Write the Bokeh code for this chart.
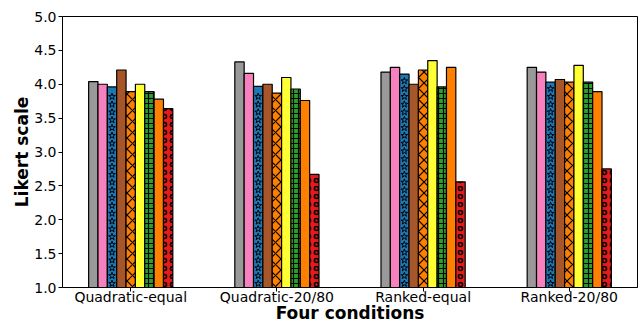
from bokeh.plotting import figure
from bokeh.models import Range1d, FixedTicker
from bokeh.embed import file_html
from bokeh.resources import INLINE

conditions = ["Quadratic-equal", "Quadratic-20/80", "Ranked-equal", "Ranked-20/80"]

s1_gray = [4.04, 4.33, 4.18, 4.25]
s2_pink = [4.00, 4.16, 4.25, 4.18]
s3_blue = [3.96, 3.97, 4.15, 4.03]
s4_brown = [4.21, 4.00, 4.00, 4.07]
s5_orange_x = [3.89, 3.87, 4.21, 4.03]
s6_yellow = [4.00, 4.10, 4.35, 4.28]
s7_green = [3.89, 3.93, 3.96, 4.03]
s8_orange = [3.78, 3.76, 4.25, 3.89]
s9_red = [3.64, 2.67, 2.56, 2.75]

y_ticks = [1.0, 1.5, 2.0, 2.5, 3.0, 3.5, 4.0, 4.5, 5.0]

series = [s1_gray, s2_pink, s3_blue, s4_brown, s5_orange_x, s6_yellow, s7_green, s8_orange, s9_red]
colors = ["#999999", "#f781bf", "#1f77b4", "#a65628", "#ff7f00", "#ffff33", "#2ca02c", "#ff7f00", "#e41a1c"]
hatches = [None, None, "star", None, "diagonal_cross", None, "cross", None, "ring"]
hatch_scales = [12, 12, 8, 12, 11, 12, 5, 12, 8]
hatch_weights = [1, 1, 1, 1, 1.2, 1, 1.2, 1, 1.6]

w = 0.064
n = len(series)
xmin = -(n / 2) * w
xmax = (len(conditions) - 1) + (n / 2) * w
pad = 0.05 * (xmax - xmin)

p = figure(width=640, height=325, output_backend="svg", toolbar_location=None,
           x_range=Range1d(xmin - pad, xmax + pad), y_range=Range1d(1.0, 5.0),
           min_border_left=62, min_border_right=3, min_border_top=16, min_border_bottom=36)

star_step = 0.115
for i, vals in enumerate(series):
    xs = [g + (i - (n - 1) / 2) * w for g in range(len(conditions))]
    kw = dict(x=xs, top=vals, bottom=0, width=w, fill_color=colors[i],
              line_color="black", line_width=1.2)
    if hatches[i] and hatches[i] != "star":
        kw.update(hatch_pattern=hatches[i], hatch_color="black",
                  hatch_scale=hatch_scales[i], hatch_weight=hatch_weights[i])
    p.vbar(**kw)
    if hatches[i] == "star":
        sx, sy = [], []
        for x, v in zip(xs, vals):
            y = 1.0 + star_step / 2
            while y < v - star_step / 2:
                sx.append(x)
                sy.append(y)
                y += star_step
        p.scatter(sx, sy, marker="star", size=7, fill_color=None,
                  line_color="black", line_width=1)

p.xgrid.visible = False
p.ygrid.visible = False
p.outline_line_color = "black"
p.outline_line_width = 1

p.xaxis.ticker = FixedTicker(ticks=list(range(len(conditions))))
p.xaxis.major_label_overrides = {i: c for i, c in enumerate(conditions)}
p.yaxis.ticker = FixedTicker(ticks=y_ticks)
p.yaxis.major_label_overrides = {t: f"{t:.1f}" for t in y_ticks}

for ax in (p.xaxis, p.yaxis):
    ax.axis_line_color = "black"
    ax.major_tick_line_color = "black"
    ax.major_tick_in = 0
    ax.major_tick_out = 4
    ax.minor_tick_line_color = None
    ax.major_label_text_font = "DejaVu Sans"
    ax.major_label_text_font_size = "14px"
    ax.major_label_text_color = "black"
    ax.axis_label_text_font = "DejaVu Sans"
    ax.axis_label_text_font_size = "17px"
    ax.axis_label_text_font_style = "bold"
    ax.axis_label_text_color = "black"
    ax.major_label_standoff = 2

p.xaxis.axis_label = "Four conditions"
p.yaxis.axis_label = "Likert scale"
p.xaxis.major_label_standoff = -3
p.xaxis.axis_label_standoff = -5
p.yaxis.axis_label_standoff = -1

open("out.html", "w").write(file_html(p, INLINE))
